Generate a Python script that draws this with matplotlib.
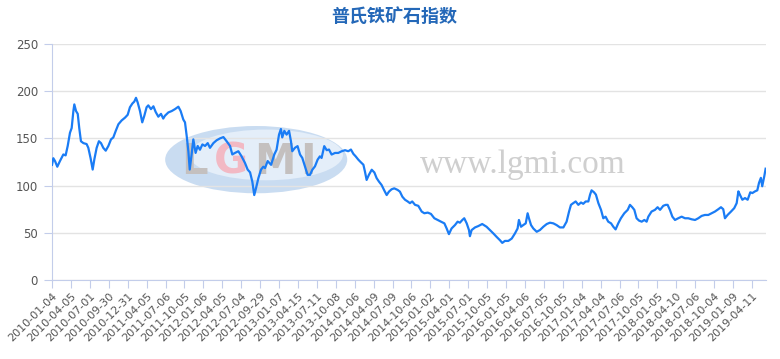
#!/usr/bin/env python3
"""普氏铁矿石指数 line chart."""

import matplotlib
matplotlib.use("Agg")
import matplotlib.pyplot as plt
from matplotlib.patches import Ellipse

plt.rcParams["font.family"] = ["Noto Sans CJK SC", "DejaVu Sans"]

TITLE = "普氏铁矿石指数"

TICK_LABELS = [
    "2010-01-04", "2010-04-05", "2010-07-01", "2010-09-30", "2010-12-31",
    "2011-04-05", "2011-07-06", "2011-10-05", "2012-01-06", "2012-04-05",
    "2012-07-04", "2012-09-29", "2013-01-07", "2013-04-15", "2013-07-11",
    "2013-10-08", "2014-01-06", "2014-04-09", "2014-07-09", "2014-10-06",
    "2015-01-02", "2015-04-01", "2015-07-01", "2015-10-05", "2016-01-05",
    "2016-04-06", "2016-07-05", "2016-10-05", "2017-01-04", "2017-04-04",
    "2017-07-06", "2017-10-05", "2018-01-05", "2018-04-10", "2018-07-06",
    "2018-10-04", "2019-01-09", "2019-04-11",
]

# sample position measured in tick intervals (one interval ~ one quarter)
SAMPLE_POS = [
    0.00, 0.07, 0.16, 0.28, 0.42, 0.60, 0.72, 0.83, 0.95, 1.04,
    1.13, 1.18, 1.27, 1.36, 1.44, 1.53, 1.66, 1.83, 1.92, 2.04,
    2.15, 2.24, 2.36, 2.48, 2.59, 2.71, 2.84, 2.98, 3.12, 3.24,
    3.37, 3.51, 3.68, 3.86, 4.00, 4.12, 4.25, 4.35, 4.44, 4.53,
    4.65, 4.77, 4.88, 5.00, 5.09, 5.23, 5.36, 5.48, 5.62, 5.76,
    5.88, 5.97, 6.15, 6.33, 6.50, 6.68, 6.80, 6.94, 7.03, 7.12,
    7.21, 7.28, 7.38, 7.47, 7.59, 7.70, 7.82, 7.95, 8.09, 8.23,
    8.35, 8.53, 8.70, 8.88, 9.06, 9.23, 9.41, 9.53, 9.67, 9.85,
    10.02, 10.20, 10.34, 10.47, 10.59, 10.69, 10.78, 10.91, 11.05, 11.17,
    11.26, 11.40, 11.58, 11.75, 11.87, 12.00, 12.10, 12.17, 12.28, 12.40,
    12.53, 12.63, 12.70, 12.84, 12.98, 13.11, 13.23, 13.37, 13.51, 13.64,
    13.76, 13.90, 14.04, 14.16, 14.25, 14.39, 14.52, 14.64, 14.78, 14.96,
    15.13, 15.31, 15.49, 15.66, 15.80, 15.93, 16.05, 16.19, 16.33, 16.46,
    16.54, 16.63, 16.75, 16.90, 17.04, 17.16, 17.28, 17.42, 17.57, 17.69,
    17.81, 17.95, 18.09, 18.27, 18.39, 18.52, 18.66, 18.80, 18.92, 19.04,
    19.19, 19.36, 19.54, 19.68, 19.86, 20.03, 20.21, 20.38, 20.56, 20.74,
    20.86, 20.98, 21.12, 21.30, 21.44, 21.56, 21.69, 21.79, 21.92, 22.04,
    22.09, 22.18, 22.36, 22.53, 22.74, 22.97, 23.15, 23.33, 23.50, 23.68,
    23.80, 23.94, 24.12, 24.30, 24.47, 24.61, 24.68, 24.79, 24.91, 25.04,
    25.14, 25.21, 25.32, 25.44, 25.62, 25.79, 25.97, 26.15, 26.32, 26.50,
    26.67, 26.85, 27.03, 27.20, 27.33, 27.43, 27.55, 27.68, 27.82, 27.96,
    28.08, 28.21, 28.35, 28.44, 28.52, 28.65, 28.75, 28.88, 29.02, 29.14,
    29.26, 29.40, 29.55, 29.67, 29.79, 29.93, 30.07, 30.25, 30.43, 30.55,
    30.67, 30.78, 30.90, 31.03, 31.17, 31.31, 31.43, 31.52, 31.69, 31.87,
    32.01, 32.14, 32.31, 32.44, 32.54, 32.66, 32.79, 32.93, 33.10, 33.28,
    33.46, 33.63, 33.81, 33.99, 34.16, 34.34, 34.51, 34.69, 34.87, 35.04,
    35.22, 35.36, 35.48, 35.57, 35.71, 35.89, 36.06, 36.19, 36.28, 36.36,
    36.49, 36.63, 36.77, 36.91, 37.02, 37.16, 37.28, 37.37, 37.47, 37.54,
    37.65, 37.72,
]

INDEX_VALUES = [
    122, 129, 126, 120, 126, 133, 132, 142, 156, 161,
    179, 186, 179, 176, 161, 147, 145, 144, 140, 129,
    117, 128, 140, 147, 145, 140, 137, 142, 149, 151,
    158, 165, 169, 172, 175, 183, 187, 189, 193, 188,
    179, 167, 174, 183, 185, 181, 184, 178, 173, 176,
    171, 174, 177.5, 179, 181, 183.6, 179, 170, 167, 152.5,
    136, 117, 133, 149, 134.6, 142, 138, 143.6, 142, 145,
    140, 145, 148, 150, 151.4, 147, 142, 133, 134.6, 136.4,
    131, 124, 117, 114, 104, 90, 97, 108, 117, 120,
    118.6, 126, 122, 133, 138, 154, 160, 151, 158, 154,
    158, 147, 136.4, 140, 141.8, 132.9, 129.3, 120.4, 111.4, 111.4,
    116.8, 120.4, 127.5, 131, 129.3, 141.8, 137.5, 138.2, 132.9, 134.6,
    134.6, 136.4, 137.5, 136.4, 138.2, 133.6, 131, 127.5, 124.6, 122.1,
    115, 106, 111.4, 116.8, 113.9, 107.9, 104.3, 100.7, 94.6, 90,
    93.6, 96.1, 97.1, 95.4, 93.6, 88.2, 85, 83.2, 81.4, 83.2,
    79.6, 78.6, 72.5, 70.7, 71.4, 70, 65.4, 63.6, 61.8, 60,
    54.6, 48.6, 54.6, 58.2, 61.8, 60.7, 63.6, 65.4, 60, 52.9,
    46.4, 52.9, 55.7, 57.1, 59.3, 56.4, 52.9, 49.3, 45.7, 42.1,
    39.3, 41.4, 41.4, 43.9, 49.3, 54.6, 63.6, 56.4, 58.2, 60,
    70.7, 65.4, 58.2, 54.6, 51.1, 52.9, 56.4, 59.3, 60.7, 60,
    58.2, 55.7, 55.7, 61.8, 72.5, 79.6, 81.4, 83.2, 79.6, 82.1,
    80.7, 83.2, 83.2, 90.4, 95, 92.9, 90.4, 81.4, 74.3, 65.4,
    67.1, 61.8, 60, 56.4, 53.6, 60, 65.4, 70.7, 74.3, 79.6,
    77.1, 74.3, 65.4, 62.9, 61.8, 63.6, 61.8, 67.1, 72.5, 74.3,
    77.1, 74.3, 78.6, 79.6, 79.6, 74.3, 67.1, 63.6, 65.4, 67.1,
    65.4, 65.4, 64.3, 63.6, 65.4, 67.9, 68.9, 68.9, 70.7, 72.5,
    75, 77.1, 75, 65.4, 68.9, 72.5, 76.1, 81.4, 93.9, 90.4,
    85, 86.8, 85, 92.9, 92.1, 93.9, 95, 102.9, 108.2, 99.3,
    110, 117.9,
]

Y_TICKS = [0, 50, 100, 150, 200, 250]

LINE_COLOR = "#1a7cf5"
AXIS_COLOR = "#c3cdea"
GRID_COLOR = "#e3e3e3"
TEXT_COLOR = "#555555"

LOGO_LETTERS = [("L", 0.200, "#c4c0bf"), ("G", 0.250, "#f2b9c4"),
                ("M", 0.312, "#c4c0bf"), ("I", 0.358, "#c4c0bf")]


def draw_watermark(ax) -> None:
    ax.add_patch(Ellipse((0.286, 0.51), 0.255, 0.285, transform=ax.transAxes,
                         facecolor="#c9dcf1", edgecolor="none", zorder=0))
    ax.add_patch(Ellipse((0.300, 0.53), 0.215, 0.215, transform=ax.transAxes,
                         facecolor="#e4eef9", edgecolor="none", zorder=0))
    for letter, xpos, color in LOGO_LETTERS:
        ax.text(xpos, 0.50, letter, transform=ax.transAxes, ha="center",
                va="center", fontsize=30, fontweight="bold", color=color,
                family=["DejaVu Sans"], zorder=0)
    ax.text(0.66, 0.49, "www.lgmi.com", transform=ax.transAxes, ha="center",
            va="center", fontsize=24, color="#cfcfcf",
            family=["Liberation Serif"], zorder=0)


def main() -> None:
    fig = plt.figure(figsize=(7.8, 3.59), dpi=100)
    ax = fig.add_axes([52 / 780, 1 - 280 / 359, 714 / 780, 236 / 359])

    draw_watermark(ax)
    ax.plot(SAMPLE_POS, INDEX_VALUES, color=LINE_COLOR, linewidth=1.6, zorder=3)

    ax.set_xlim(0, 37.74)
    ax.set_ylim(0, 250)
    ax.set_yticks(Y_TICKS)
    ax.set_xticks(range(len(TICK_LABELS)))
    ax.set_xticklabels(TICK_LABELS, rotation=45, ha="right",
                       rotation_mode="anchor", fontsize=8, color=TEXT_COLOR,
                       family=["DejaVu Sans"])
    for lbl in ax.get_yticklabels():
        lbl.set_fontsize(8.5)
        lbl.set_color(TEXT_COLOR)
        lbl.set_family(["DejaVu Sans"])

    ax.grid(axis="y", color=GRID_COLOR, linewidth=1.0, zorder=1)
    ax.set_axisbelow(True)
    for side in ("top", "right"):
        ax.spines[side].set_visible(False)
    ax.spines["left"].set_color(AXIS_COLOR)
    ax.spines["bottom"].set_color(AXIS_COLOR)
    ax.tick_params(axis="x", length=6, color=AXIS_COLOR, pad=2)
    ax.tick_params(axis="y", length=6, color=AXIS_COLOR, pad=4)

    fig.text(0.505, 1 - 17 / 359, TITLE, ha="center", va="center",
             fontsize=13, fontweight="bold", color="#2468b8")

    fig.savefig("out.png", dpi=100)
    plt.close(fig)


if __name__ == "__main__":
    main()
